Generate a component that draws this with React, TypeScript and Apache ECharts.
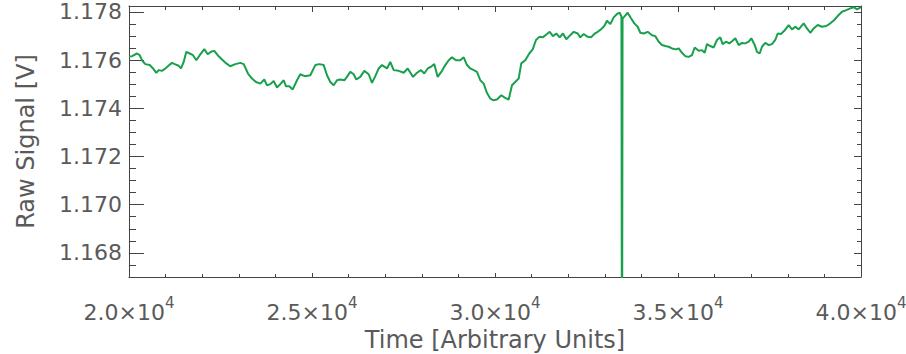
import React, { useEffect, useRef } from 'react';
import * as echarts from 'echarts';

// [time, raw signal] samples
const signalPoints: [number, number][] = [
  [20000,1.17613],[20082,1.17616],[20219,1.17627],[20292,1.17620],[20355,1.17599],[20445,1.17583],[20566,1.17579],[20656,1.17565],[20746,1.17547],[20811,1.17558],
  [20902,1.17555],[20992,1.17565],[21085,1.17577],[21175,1.17588],[21265,1.17582],[21358,1.17576],[21421,1.17565],[21495,1.17592],[21566,1.17634],[21658,1.17627],
  [21749,1.17620],[21839,1.17599],[21932,1.17620],[22057,1.17645],[22150,1.17624],[22240,1.17634],[22331,1.17638],[22423,1.17620],[22541,1.17602],[22658,1.17586],
  [22768,1.17574],[22904,1.17583],[23041,1.17588],[23134,1.17583],[23251,1.17544],[23361,1.17523],[23470,1.17509],[23587,1.17502],[23697,1.17519],[23770,1.17495],
  [23861,1.17500],[23953,1.17513],[24044,1.17486],[24134,1.17500],[24227,1.17516],[24290,1.17491],[24380,1.17491],[24473,1.17478],[24590,1.17516],[24680,1.17541],
  [24800,1.17533],[24954,1.17537],[25090,1.17579],[25199,1.17583],[25320,1.17579],[25410,1.17537],[25500,1.17509],[25593,1.17495],[25683,1.17516],[25773,1.17519],
  [25882,1.17516],[25956,1.17530],[26046,1.17551],[26139,1.17541],[26210,1.17519],[26320,1.17530],[26429,1.17555],[26549,1.17541],[26639,1.17505],[26730,1.17533],
  [26822,1.17565],[26913,1.17579],[27049,1.17565],[27139,1.17592],[27232,1.17558],[27369,1.17555],[27505,1.17547],[27615,1.17565],[27760,1.17530],[27869,1.17547],
  [27978,1.17558],[28068,1.17544],[28161,1.17565],[28251,1.17572],[28341,1.17583],[28434,1.17530],[28552,1.17555],[28642,1.17579],[28735,1.17599],[28825,1.17611],
  [28934,1.17599],[29052,1.17599],[29145,1.17611],[29235,1.17579],[29325,1.17565],[29418,1.17558],[29508,1.17551],[29598,1.17516],[29691,1.17502],[29781,1.17463],
  [29871,1.17440],[29964,1.17433],[30054,1.17436],[30172,1.17454],[30265,1.17444],[30374,1.17436],[30464,1.17495],[30554,1.17509],[30647,1.17523],[30718,1.17586],
  [30828,1.17599],[30937,1.17627],[31030,1.17644],[31120,1.17683],[31210,1.17696],[31303,1.17694],[31421,1.17708],[31494,1.17717],[31584,1.17699],[31675,1.17710],
  [31768,1.17694],[31858,1.17710],[31948,1.17686],[32057,1.17703],[32150,1.17717],[32259,1.17710],[32330,1.17694],[32423,1.17708],[32532,1.17696],[32623,1.17694],
  [32713,1.17708],[32806,1.17717],[32896,1.17727],[32986,1.17741],[33060,1.17763],[33150,1.17749],[33243,1.17777],[33333,1.17791],[33407,1.17796],[33455,1.17780],
  [33470,1.16000],[33485,1.17772],[33533,1.17780],[33626,1.17796],[33716,1.17773],[33806,1.17752],[33899,1.17738],[33970,1.17713],[34063,1.17710],[34172,1.17717],
  [34290,1.17703],[34380,1.17699],[34473,1.17676],[34563,1.17662],[34653,1.17658],[34746,1.17655],[34836,1.17648],[34945,1.17644],[35019,1.17648],[35109,1.17630],
  [35199,1.17616],[35292,1.17613],[35382,1.17620],[35456,1.17652],[35565,1.17638],[35655,1.17641],[35729,1.17630],[35792,1.17666],[35882,1.17658],[35975,1.17652],
  [36065,1.17683],[36155,1.17694],[36221,1.17666],[36311,1.17676],[36401,1.17669],[36494,1.17680],[36565,1.17690],[36658,1.17662],[36748,1.17671],[36839,1.17669],
  [36932,1.17676],[37003,1.17690],[37096,1.17662],[37159,1.17634],[37232,1.17627],[37295,1.17655],[37385,1.17671],[37478,1.17662],[37568,1.17666],[37658,1.17683],
  [37724,1.17710],[37814,1.17708],[37904,1.17721],[38024,1.17745],[38114,1.17727],[38205,1.17738],[38297,1.17727],[38434,1.17752],[38524,1.17731],[38614,1.17713],
  [38707,1.17731],[38816,1.17745],[38934,1.17738],[39051,1.17741],[39161,1.17752],[39270,1.17766],[39390,1.17787],[39480,1.17800],[39598,1.17807],[39707,1.17814],
  [39800,1.17819],[39891,1.17810],[40000,1.17819],
];

const xMin = 20000;
const xMax = 40000;
const xMajorStep = 5000;
const yMin = 1.167;
const yMax = 1.17824;
const yMajorTicks = [1.168, 1.170, 1.172, 1.174, 1.176, 1.178];
const yMinorTicks = [
  1.1675, 1.1685, 1.169, 1.1695, 1.1705, 1.171, 1.1715, 1.1725, 1.173, 1.1735,
  1.1745, 1.175, 1.1755, 1.1765, 1.177, 1.1775,
];

const FONT = 'DejaVu Sans';
const TEXT = '#5a5a5a';
const AXIS = '#444444';
const GREEN = '#18a04c';

export default function App() {
  const ref = useRef<HTMLDivElement>(null);
  useEffect(() => {
    if (!ref.current) return;
    const chart = echarts.init(ref.current, undefined, { renderer: 'svg' });
    const yBase = {
      type: 'value' as const,
      min: yMin,
      max: yMax,
      splitLine: { show: false },
      axisLine: { show: false },
      axisLabel: { show: false },
    };
    chart.setOption({
      animation: false,
      backgroundColor: '#ffffff',
      grid: { left: 129, right: 45, top: 6, bottom: 77, containLabel: false, outerBoundsMode: 'none' },
      xAxis: [
        {
          type: 'value',
          min: xMin,
          max: xMax,
          interval: xMajorStep,
          position: 'bottom',
          name: 'Time [Arbitrary Units]',
          nameLocation: 'middle',
          nameGap: 44,
          nameTextStyle: { fontFamily: FONT, fontSize: 24, color: TEXT },
          axisLine: { show: true, lineStyle: { color: AXIS, width: 1 } },
          axisTick: { show: true, inside: true, length: 4, lineStyle: { color: AXIS } },
          minorTick: { show: true, splitNumber: 5, length: 3, lineStyle: { color: AXIS } },
          splitLine: { show: false },
          axisLabel: {
            margin: 18,
            formatter: (v: number) => `{m|${(v / 10000).toFixed(1)}×10}{e|4}`,
            rich: {
              m: { fontFamily: FONT, fontSize: 22, color: TEXT, lineHeight: 28, verticalAlign: 'bottom' },
              e: { fontFamily: FONT, fontSize: 15, color: TEXT, lineHeight: 28, verticalAlign: 'top' },
            },
          },
        },
        {
          type: 'value',
          min: xMin,
          max: xMax,
          interval: xMajorStep,
          position: 'top',
          axisLine: { show: true, lineStyle: { color: AXIS, width: 1 } },
          axisTick: { show: true, inside: true, length: 6, lineStyle: { color: AXIS } },
          minorTick: { show: true, splitNumber: 5, length: 4, lineStyle: { color: AXIS } },
          splitLine: { show: false },
          axisLabel: { show: false },
        },
      ],
      yAxis: [
        {
          type: 'value',
          min: yMin,
          max: yMax,
          position: 'left',
          name: 'Raw Signal [V]',
          nameLocation: 'middle',
          nameGap: 91,
          nameTextStyle: { fontFamily: FONT, fontSize: 24, color: TEXT },
          axisLine: { show: true, lineStyle: { color: AXIS, width: 1 } },
          axisTick: { show: true, inside: true, length: 15, customValues: yMajorTicks, lineStyle: { color: AXIS } },
          splitLine: { show: false },
          axisLabel: {
            show: true,
            margin: 7,
            customValues: yMajorTicks,
            formatter: (v: number) => v.toFixed(3),
            fontFamily: FONT,
            fontSize: 22,
            color: TEXT,
          },
        },
        {
          ...yBase,
          position: 'left',
          axisTick: { show: true, inside: true, length: 7, customValues: yMinorTicks, lineStyle: { color: AXIS } },
        },
        {
          ...yBase,
          position: 'right',
          axisLine: { show: true, lineStyle: { color: AXIS, width: 1 } },
          axisTick: { show: true, inside: true, length: 7, customValues: yMajorTicks, lineStyle: { color: AXIS } },
        },
        {
          ...yBase,
          position: 'right',
          axisTick: { show: true, inside: true, length: 4, customValues: yMinorTicks, lineStyle: { color: AXIS } },
        },
      ],
      series: [
        {
          type: 'line',
          xAxisIndex: 0,
          yAxisIndex: 0,
          data: signalPoints,
          showSymbol: false,
          symbol: 'none',
          clip: true,
          lineStyle: { color: GREEN, width: 2 },
          itemStyle: { color: GREEN },
        },
      ],
    });
    return () => chart.dispose();
  }, []);
  return (
    <div
      ref={ref}
      style={{ position: 'fixed', left: 0, top: 0, width: 906, height: 354, background: '#ffffff' }}
    />
  );
}
